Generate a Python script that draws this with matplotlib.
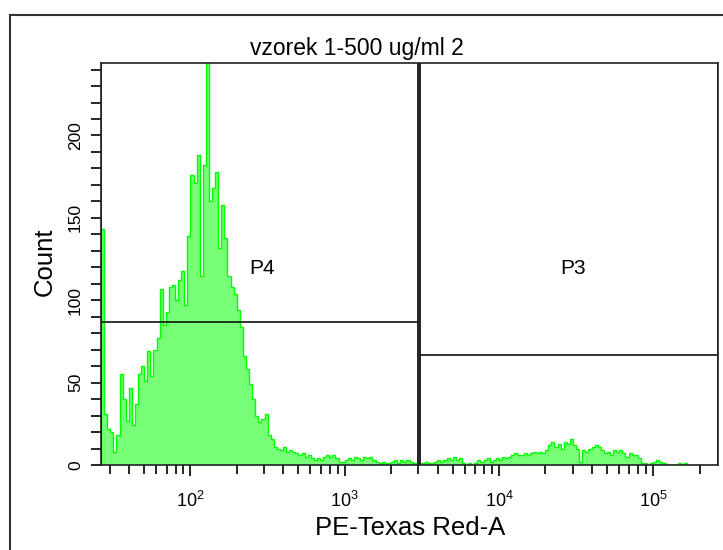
import numpy as np
import matplotlib
matplotlib.use('Agg')
import matplotlib.pyplot as plt
from matplotlib.ticker import LogLocator, MultipleLocator, NullFormatter
from matplotlib.lines import Line2D

plt.rcParams['font.family'] = ['Liberation Sans', 'DejaVu Sans']

title = 'vzorek 1-500 ug/ml 2'
x_label = 'PE-Texas Red-A'
y_label = 'Count'

# 200 log-spaced bins between 10^1.42 and 10^5.42
log_lo, log_hi = 1.42, 5.42
counts = [
    143, 31, 22, 20, 8, 18, 55, 40, 27, 47,
    24, 37, 55, 60, 51, 69, 54, 70, 77, 107,
    85, 93, 108, 109, 100, 112, 118, 97, 139, 176,
    171, 188, 115, 182, 250, 160, 168, 178, 132, 158,
    138, 115, 108, 104, 94, 84, 66, 58, 49, 40,
    30, 26, 28, 31, 18, 16, 11, 10, 9, 11,
    8, 9, 8, 7, 6, 7, 5, 6, 4, 3,
    4, 3, 5, 6, 5, 6, 4, 2, 2, 3,
    4, 3, 5, 4, 3, 5, 4, 5, 3, 2,
    1, 2, 1, 1, 2, 3, 1, 3, 2, 3,
    2, 1, 1, 1, 1, 2, 1, 1, 2, 3,
    2, 3, 4, 3, 5, 3, 4, 1, 0, 1,
    0, 1, 3, 2, 3, 4, 2, 3, 4, 3,
    5, 4, 5, 6, 7, 6, 6, 7, 6, 7,
    8, 7, 8, 7, 9, 12, 14, 11, 13, 10,
    14, 13, 16, 12, 10, 2, 9, 8, 10, 11,
    12, 11, 9, 7, 8, 6, 9, 8, 9, 7,
    5, 7, 6, 6, 4, 1, 1, 0, 1, 2,
    3, 2, 1, 0, 0, 0, 0, 1, 0, 1,
    0, 0, 0, 0, 0, 0, 0, 0, 0, 0,
]

# interval gates
gate_names = ['P4', 'P3']
gate_lo = [10 ** log_lo, 3080]
gate_hi = [2990, 10 ** log_hi]
gate_level = [86.6, 67]
gate_label_x = [292, 30100]
gate_label_y = [119, 119]

y_max = 244

edges = np.logspace(log_lo, log_hi, len(counts) + 1)

fig = plt.figure(figsize=(7.23, 5.5), dpi=100)
ax = fig.add_axes([101 / 723, 1 - 465 / 550, 617 / 723, 402 / 550])

ax.stairs(counts, edges, fill=True, color='#78ff78', linewidth=0)
ax.stairs(counts, edges, color='#00ff00', linewidth=1.0)

ax.set_xscale('log')
ax.set_xlim(10 ** log_lo, 10 ** log_hi)
ax.set_ylim(0, y_max)

# gates
for name, lo, hi, lev, lx, ly in zip(gate_names, gate_lo, gate_hi, gate_level,
                                     gate_label_x, gate_label_y):
    ax.plot([lo, hi], [lev, lev], color='#111111', lw=1.2)
    ax.plot([lo, lo], [0, y_max], color='#111111', lw=1.3)
    ax.plot([hi, hi], [0, y_max], color='#111111', lw=1.3)
    ax.text(lx, ly, name, ha='center', va='center', fontsize=15)

for s in ax.spines.values():
    s.set_linewidth(1.2)
    s.set_color('#222222')

ax.xaxis.set_major_locator(LogLocator(base=10))
ax.xaxis.set_minor_locator(LogLocator(base=10, subs=np.arange(2, 10)))
ax.xaxis.set_minor_formatter(NullFormatter())
ax.yaxis.set_major_locator(MultipleLocator(50))
ax.yaxis.set_minor_locator(MultipleLocator(10))

ax.tick_params(axis='x', which='major', direction='out', length=8, width=1.2,
               labelsize=13, pad=11)
ax.tick_params(axis='x', which='minor', direction='out', length=6.5, width=1.2)
ax.tick_params(axis='y', which='major', direction='out', length=7, width=1.2,
               labelsize=12.5, pad=6, labelrotation=90)
ax.tick_params(axis='y', which='minor', direction='out', length=7, width=1.2)
for lab in ax.get_yticklabels():
    lab.set_va('center')
    lab.set_family(['Liberation Sans Narrow', 'Liberation Sans', 'DejaVu Sans'])

fig.text(357 / 723, 1 - 48 / 550, title, ha='center', va='center', fontsize=16.5)
fig.text(410 / 723, 1 - 528 / 550, x_label, ha='center', va='center', fontsize=18.5)
fig.text(45 / 723, 1 - 262 / 550, y_label, ha='center', va='center',
         fontsize=18.5, rotation=90)

# outer frame
fig.add_artist(Line2D([10 / 723, 10 / 723], [0, 1 - 15 / 550],
                      transform=fig.transFigure, color='#333333', lw=1.5))
fig.add_artist(Line2D([10 / 723, 1], [1 - 15 / 550, 1 - 15 / 550],
                      transform=fig.transFigure, color='#333333', lw=1.5))

fig.savefig('out.png', dpi=100)
